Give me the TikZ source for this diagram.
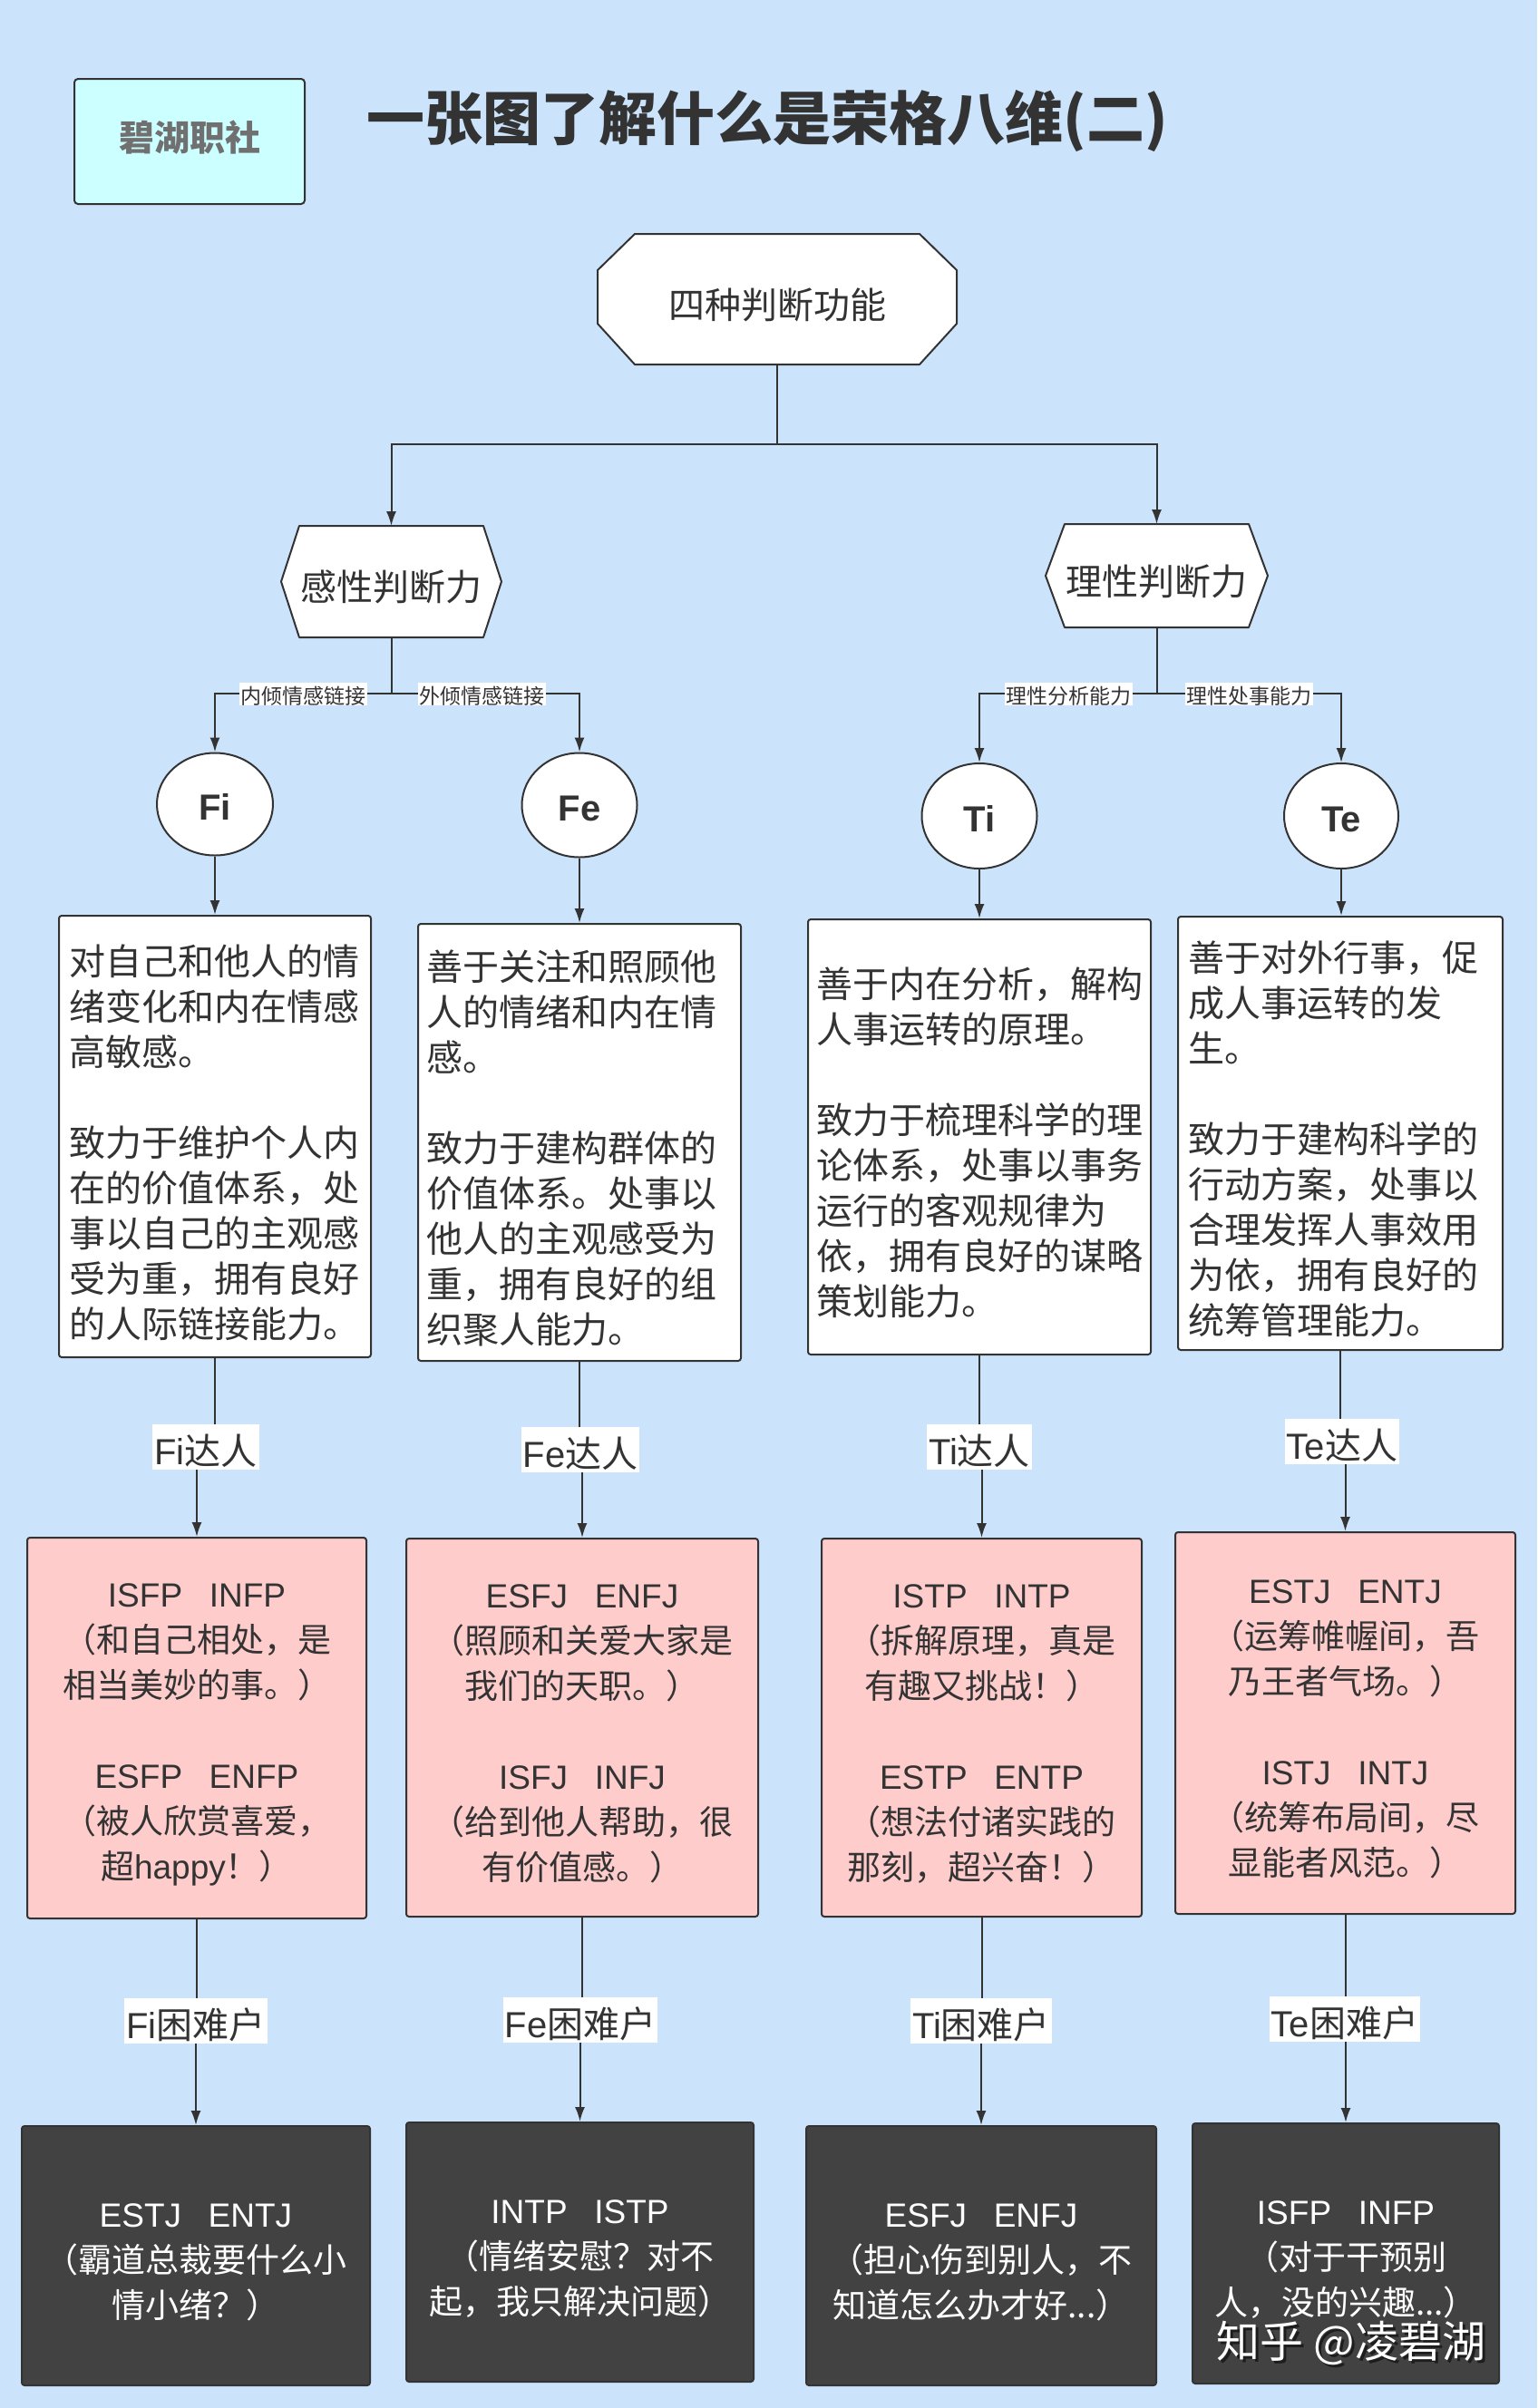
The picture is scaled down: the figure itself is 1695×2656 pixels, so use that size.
\documentclass[tikz,border=0pt]{standalone}
\usepackage{fontspec}
\setmainfont{Noto Sans CJK SC}
\newfontfamily\lat{Liberation Sans}
\usetikzlibrary{arrows.meta,shapes.geometric,calc}
\definecolor{bgc}{HTML}{CCE4FB}
\definecolor{pinkc}{HTML}{FFCCCC}
\definecolor{darkc}{HTML}{424242}
\definecolor{linec}{HTML}{333333}
\definecolor{logoc}{HTML}{CCFFFF}
\definecolor{logot}{HTML}{707070}
\newcommand\szL{\fontsize{40}{50}\selectfont}
\newcommand\szM{\fontsize{37}{50}\selectfont}
\newcommand\szS{\fontsize{23}{27}\selectfont}
\newcommand\szT{\fontsize{64}{70}\selectfont}
\newcommand\szW{\fontsize{48}{52}\selectfont}
\newcommand\gapcode{\hspace{0.8em}}
\newcommand\stA{\rule{0pt}{47pt}}
\newcommand\stB{\rule{0pt}{40pt}}
\pgfdeclarelayer{bgfill}
\pgfdeclarelayer{shapelayer}
\pgfsetlayers{bgfill,shapelayer,main}
\tikzset{
  ln/.style={draw=linec, line width=2pt},
  arr/.style={ln, -{Latex[length=16pt,width=11pt]}},
  geo/.style={rectangle, draw=none, inner sep=0pt, outer sep=0pt, font=\szL, text=linec, text height=42pt, text depth=0pt},
  poly/.style={fill=white, draw=linec, line width=2pt, line join=round},
  circ/.style={ellipse, draw=linec, line width=2pt, fill=white, inner sep=0pt, font=\lat\bfseries\fontsize{40}{44}\selectfont, text=linec, text height=35pt, text depth=0pt},
  wbox/.style={rectangle, rounded corners=3pt, draw=linec, line width=2pt, fill=white, align=left, font=\szL, text=linec, inner ysep=4pt},
  pbox/.style={rectangle, rounded corners=3pt, draw=linec, line width=2pt, fill=pinkc, align=center, font=\szM, text=linec, inner xsep=10pt},
  dbox/.style={rectangle, rounded corners=3pt, draw=linec, line width=2pt, fill=darkc, align=center, font=\szM, text=white, inner xsep=10pt},
  lbl/.style={fill=white, inner sep=2pt, font=\szL, text=linec, minimum height=50pt, text height=40pt, text depth=2pt},
  slbl/.style={fill=white, inner sep=1.5pt, font=\szS, text=linec, text height=22pt, text depth=0pt},
}
\begin{document}
\begin{tikzpicture}[x=1pt,y=-1pt]
\useasboundingbox (0,0) rectangle (1695,2656);
\begin{pgfonlayer}{bgfill}
\fill[bgc] (0,0) rectangle (1695,2656);
\end{pgfonlayer}

% logo and title
\node[rectangle, rounded corners=4pt, draw=linec, line width=2pt, fill=logoc, minimum width=254pt, minimum height=138pt, font=\bfseries\fontsize{39}{44}\selectfont, text=logot, text height=24pt, text depth=4pt] (logo) at (209,156) {碧湖职社};
\node[font=\bfseries\szT, text=linec] (title) at (846,134) {一张图了解什么是荣格八维(二)};

% top octagon
\node[geo, minimum width=396pt, minimum height=144pt] (top) at (857,330) {四种判断功能};
\begin{pgfonlayer}{shapelayer}
\path[poly] ($(top.north west)+(41,0)$) -- ($(top.north east)+(-41,0)$) -- ($(top.north east)+(0,40)$) -- ($(top.south east)+(0,-45)$) -- ($(top.south east)+(-41,0)$) -- ($(top.south west)+(41,0)$) -- ($(top.south west)+(0,-45)$) -- ($(top.north west)+(0,40)$) -- cycle;
\end{pgfonlayer}

% hexagons
\node[geo, minimum width=243pt, minimum height=123pt] (gan) at (431.5,641.5) {感性判断力};
\node[geo, minimum width=245pt, minimum height=114pt] (li) at (1275.5,635) {理性判断力};
\begin{pgfonlayer}{shapelayer}
\path[poly] (gan.west) -- ($(gan.north west)+(20,0)$) -- ($(gan.north east)+(-20,0)$) -- (gan.east) -- ($(gan.south east)+(-20,0)$) -- ($(gan.south west)+(20,0)$) -- cycle;
\path[poly] (li.west) -- ($(li.north west)+(21,0)$) -- ($(li.north east)+(-21,0)$) -- (li.east) -- ($(li.south east)+(-21,0)$) -- ($(li.south west)+(21,0)$) -- cycle;
\end{pgfonlayer}

% circles
\node[circ, minimum width=128pt, minimum height=113pt] (Fi) at (237,887) {Fi};
\node[circ, minimum width=127pt, minimum height=115pt] (Fe) at (639,888) {Fe};
\node[circ, minimum width=127pt, minimum height=116pt] (Ti) at (1080,900) {Ti};
\node[circ, minimum width=126pt, minimum height=116pt] (Te) at (1479,900) {Te};

% white description boxes
\node[wbox, text width=322pt, inner xsep=11pt, minimum height=487pt] (Fibox) at (237,1253.5) {\stA 对自己和他人的情\\绪变化和内在情感\\高敏感。\\[50pt]致力于维护个人内\\在的价值体系，处\\事以自己的主观感\\受为重，拥有良好\\的人际链接能力。};
\node[wbox, text width=338pt, inner xsep=9pt, minimum height=482pt] (Febox) at (639,1260) {\stA 善于关注和照顾他\\人的情绪和内在情\\感。\\[50pt]致力于建构群体的\\价值体系。处事以\\他人的主观感受为\\重，拥有良好的组\\织聚人能力。};
\node[wbox, text width=360pt, inner xsep=9pt, minimum height=480pt] (Tibox) at (1080,1254) {\stA 善于内在分析，解构\\人事运转的原理。\\[50pt]致力于梳理科学的理\\论体系，处事以事务\\运行的客观规律为\\依，拥有良好的谋略\\策划能力。};
\node[wbox, text width=336pt, inner xsep=11pt, minimum height=478pt] (Tebox) at (1478,1250) {\stA 善于对外行事，促\\成人事运转的发\\生。\\[50pt]致力于建构科学的\\行动方案，处事以\\合理发挥人事效用\\为依，拥有良好的\\统筹管理能力。};

% pink boxes
\node[pbox, text width=354pt, minimum height=420pt] (Fipink) at (217,1906) {\stB{\lat ISFP\gapcode INFP}\\（和自己相处，是\\相当美妙的事。）\\[50pt]{\lat ESFP\gapcode ENFP}\\（被人欣赏喜爱，\\超{\lat happy}！）};
\node[pbox, text width=368pt, minimum height=417pt] (Fepink) at (642,1905.5) {\stB{\lat ESFJ\gapcode ENFJ}\\（照顾和关爱大家是\\我们的天职。）\\[50pt]{\lat ISFJ\gapcode INFJ}\\（给到他人帮助，很\\有价值感。）};
\node[pbox, text width=333pt, minimum height=417pt] (Tipink) at (1082.5,1905.5) {\stB{\lat ISTP\gapcode INTP}\\（拆解原理，真是\\有趣又挑战！）\\[50pt]{\lat ESTP\gapcode ENTP}\\（想法付诸实践的\\那刻，超兴奋！）};
\node[pbox, text width=355pt, minimum height=421pt] (Tepink) at (1483.5,1900.5) {\stB{\lat ESTJ\gapcode ENTJ}\\（运筹帷幄间，吾\\乃王者气场。）\\[50pt]{\lat ISTJ\gapcode INTJ}\\（统筹布局间，尽\\显能者风范。）};

% dark boxes
\node[dbox, text width=364pt, minimum height=286pt] (Fidark) at (216,2488) {\stB{\lat ESTJ\gapcode ENTJ}\\（霸道总裁要什么小\\情小绪？）};
\node[dbox, text width=363pt, minimum height=286pt] (Fedark) at (639.5,2484) {\stB{\lat INTP\gapcode ISTP}\\（情绪安慰？对不\\起，我只解决问题）};
\node[dbox, text width=366pt, minimum height=286pt] (Tidark) at (1082,2488) {\stB{\lat ESFJ\gapcode ENFJ}\\（担心伤到别人，不\\知道怎么办才好...）};
\node[dbox, text width=318pt, minimum height=287pt] (Tedark) at (1484,2485.5) {\stB{\lat ISFP\gapcode INFP}\\（对于干预别\\人，没的兴趣...）};

% connectors
\coordinate (s0) at (857,490);
\draw[ln] (top.south) -- (s0);
\draw[arr] (s0) -| (gan.north);
\draw[arr] (s0) -| (li.north);
\coordinate (s1) at (431.5,765);
\draw[ln] (gan.south) -- (s1);
\draw[arr] (s1) -| (Fi.north);
\draw[arr] (s1) -| (Fe.north);
\coordinate (s2) at (1275.5,765);
\draw[ln] (li.south) -- (s2);
\draw[arr] (s2) -| (Ti.north);
\draw[arr] (s2) -| (Te.north);

\draw[arr] (Fi.south) -- (Fi.south |- Fibox.north);
\draw[arr] (Fe.south) -- (Fe.south |- Febox.north);
\draw[arr] (Ti.south) -- (Ti.south |- Tibox.north);
\draw[arr] (Te.south) -- (Te.south |- Tebox.north);

\coordinate (c1) at (227,1596);
\coordinate (c2) at (640,1599);
\coordinate (c3) at (1080,1596);
\coordinate (c4) at (1480,1590);
\coordinate (c5) at (216,2229);
\coordinate (c6) at (640,2228);
\coordinate (c7) at (1082,2229);
\coordinate (c8) at (1483,2227);
\draw[arr] (Fibox.south) |- (c1) -| (Fipink.north);
\draw[arr] (Febox.south) |- (c2) -| (Fepink.north);
\draw[arr] (Tibox.south) |- (c3) -| (Tipink.north);
\draw[arr] (Tebox.south) |- (c4) -| (Tepink.north);
\draw[arr] (Fipink.south) |- (c5) -| (Fidark.north);
\draw[arr] (Fepink.south) |- (c6) -| (Fedark.north);
\draw[arr] (Tipink.south) |- (c7) -| (Tidark.north);
\draw[arr] (Tepink.south) |- (c8) -| (Tedark.north);

% connector labels
\node[slbl] (l1) at (334,765) {内倾情感链接};
\node[slbl] (l2) at (531,765) {外倾情感链接};
\node[slbl] (l3) at (1178,765) {理性分析能力};
\node[slbl] (l4) at (1377,765) {理性处事能力};
\node[lbl] (fil) at (c1) {{\lat Fi}达人};
\node[lbl] (fel) at (c2) {{\lat Fe}达人};
\node[lbl] (til) at (c3) {{\lat Ti}达人};
\node[lbl] (tel) at (c4) {{\lat Te}达人};
\node[lbl] (fid) at (c5) {{\lat Fi}困难户};
\node[lbl] (fed) at (c6) {{\lat Fe}困难户};
\node[lbl] (tid) at (c7) {{\lat Ti}困难户};
\node[lbl] (ted) at (c8) {{\lat Te}困难户};

% watermark
\node[font=\szW, text=black, opacity=0.55] (wms) at (1493,2587) {知乎 @凌碧湖};
\node[font=\szW, text=white] (wm) at (1490,2584) {知乎 @凌碧湖};
\end{tikzpicture}
\end{document}
